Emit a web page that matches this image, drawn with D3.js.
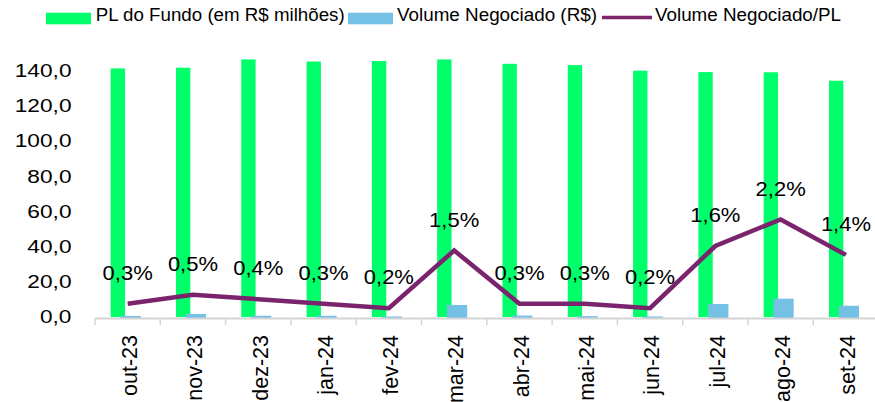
<!DOCTYPE html>
<html>
<head>
<meta charset="utf-8">
<script src="https://cdn.jsdelivr.net/npm/d3@7"></script>
<style>
  html, body { margin: 0; padding: 0; background: #ffffff; }
  svg { display: block; }
  text { font-family: "Liberation Sans", Arial, sans-serif; fill: #000; }
</style>
</head>
<body>
<svg id="chart" width="875" height="402"></svg>
<script>
// Monthly fund figures
const months = ["out-23", "nov-23", "dez-23", "jan-24", "fev-24", "mar-24",
                "abr-24", "mai-24", "jun-24", "jul-24", "ago-24", "set-24"];
const plFundo = [141.2, 141.6, 146.3, 145.1, 145.4, 146.3, 143.8, 143.1, 139.9, 139.1, 139.0, 134.2];
const volumeNegociado = [0.6, 1.7, 0.7, 0.7, 0.3, 6.8, 0.8, 0.5, 0.3, 7.4, 10.4, 6.4];
const volumePL = [0.3, 0.5, 0.4, 0.3, 0.2, 1.5, 0.3, 0.3, 0.2, 1.6, 2.2, 1.4];
const yTicks = [0, 20, 40, 60, 80, 100, 120, 140];
const legendItems = ["PL do Fundo (em R$ milhões)", "Volume Negociado (R$)", "Volume Negociado/PL"];

const colors = { pl: "#00ff6a", vol: "#75c1e6", ratio: "#7b246e", axis: "#d4d4d4" };
const fmt1 = d3.format(".1f");
const comma = s => s.replace(".", ",");

const svg = d3.select("#chart");

const x = d3.scaleBand().domain(months).range([95, 878.6]).paddingInner(0).paddingOuter(0);
const y = d3.scaleLinear().domain([0, 160]).range([317, 35.3]);
const y2 = d3.scaleLinear().domain([0, 6.35]).range([317, 35.3]);
const bw = x.bandwidth();

// Y axis labels (no axis line, no gridlines)
const yg = svg.append("g");
yg.selectAll("text").data(yTicks).join("text")
  .attr("transform", d => `translate(71.5,${y(d)}) scale(1.26,1)`)
  .attr("text-anchor", "end")
  .attr("dy", "0.36em")
  .attr("font-size", 18)
  .text(d => comma(fmt1(d)));

// PL bars
svg.append("g").selectAll("rect").data(plFundo).join("rect")
  .attr("x", (d, i) => x(months[i]) + bw * 0.24)
  .attr("width", bw * 0.22)
  .attr("y", d => y(d))
  .attr("height", d => y(0) - y(d))
  .attr("fill", colors.pl);

// Traded volume bars
svg.append("g").selectAll("rect").data(volumeNegociado).join("rect")
  .attr("x", (d, i) => x(months[i]) + bw * 0.39)
  .attr("width", bw * 0.31)
  .attr("y", d => y(d))
  .attr("height", d => y(0) - y(d) + 1)
  .attr("fill", colors.vol);

// Category axis
const xAxis = d3.axisBottom(x).tickSize(0).tickFormat("");
const xg = svg.append("g").attr("transform", `translate(0,${y(0) + 1})`).call(xAxis);
xg.select(".domain").attr("stroke", colors.axis).attr("stroke-width", 2);
xg.selectAll(".tick").remove();
xg.selectAll("line.sep").data(months).join("line")
  .attr("class", "sep")
  .attr("x1", d => x(d)).attr("x2", d => x(d))
  .attr("y1", 0).attr("y2", 7)
  .attr("stroke", colors.axis).attr("stroke-width", 1.5);

svg.append("g").selectAll("text").data(months).join("text")
  .attr("transform", d => `translate(${x(d) + bw / 2 + 1.5},335) rotate(-90)`)
  .attr("text-anchor", "end")
  .attr("dy", "0.36em")
  .attr("font-size", 21.5)
  .text(d => d);

// Volume/PL line
const line = d3.line()
  .x((d, i) => x(months[i]) + bw / 2)
  .y(d => y2(d));
svg.append("path")
  .datum(volumePL)
  .attr("d", line)
  .attr("fill", "none")
  .attr("stroke", colors.ratio)
  .attr("stroke-width", 4.5)
  .attr("stroke-linejoin", "miter");

svg.append("g").selectAll("text").data(volumePL).join("text")
  .attr("transform", (d, i) => `translate(${x(months[i]) + bw / 2},${y2(d) - 31}) scale(1.1,1)`)
  .attr("text-anchor", "middle")
  .attr("dy", "0.36em")
  .attr("font-size", 20)
  .text(d => comma(fmt1(d)) + "%");

// Legend
const lg = svg.append("g").attr("font-family", "Inter, sans-serif");
const swatches = [
  { x: 46, w: 45, type: "rect", color: colors.pl, tx: 95.7, tl: 249 },
  { x: 348, w: 45, type: "rect", color: colors.vol, tx: 397, tl: 200 },
  { x: 602, w: 50, type: "line", color: colors.ratio, tx: 655, tl: 186 }
];
swatches.forEach((s, i) => {
  if (s.type === "rect") {
    lg.append("rect").attr("x", s.x).attr("y", 12.7).attr("width", s.w).attr("height", 11.6).attr("fill", s.color);
  } else {
    lg.append("line").attr("x1", s.x).attr("x2", s.x + s.w).attr("y1", 17.5).attr("y2", 17.5)
      .attr("stroke", s.color).attr("stroke-width", 3.5);
  }
  lg.append("text")
    .attr("x", s.tx).attr("y", 20.7)
    .attr("font-family", "Inter, sans-serif")
    .attr("font-size", 18.3)
    .attr("textLength", s.tl)
    .attr("lengthAdjust", "spacingAndGlyphs")
    .text(legendItems[i]);
});
</script>
</body>
</html>
